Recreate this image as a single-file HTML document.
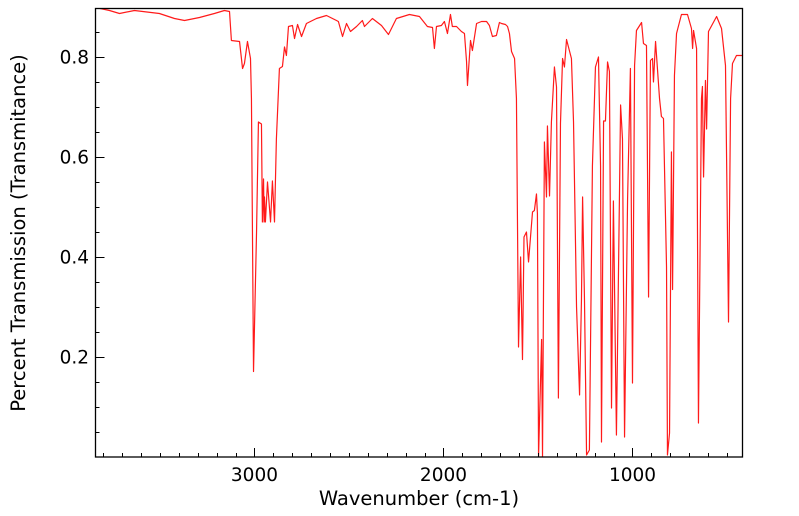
<!DOCTYPE html>
<html><head><meta charset="utf-8">
<style>
html,body{margin:0;padding:0;background:#fff;width:799px;height:516px;overflow:hidden}
svg text{font-family:"DejaVu Sans","Liberation Sans",sans-serif;fill:#000}
</style></head>
<body>
<svg id="chart" width="799" height="516" xmlns="http://www.w3.org/2000/svg"></svg>
<script>
const wavenumbers=[3841,3767,3714,3635,3503,3423,3370,3291,3212,3159,3132,3122,3079,3063,3053,3037,3021,3016,3005,2989,2979,2963,2958,2952,2949,2947,2942,2931,2915,2905,2894,2884,2868,2852,2841,2831,2820,2799,2788,2772,2751,2725,2672,2619,2566,2556,2534,2513,2492,2460,2429,2418,2376,2328,2291,2249,2180,2127,2085,2058,2048,2037,2011,1995,1979,1963,1953,1931,1905,1889,1878,1873,1857,1847,1825,1799,1772,1757,1741,1720,1704,1693,1672,1661,1651,1640,1624,1614,1603,1592,1582,1574,1561,1550,1529,1519,1508,1503,1497,1481,1476,1466,1455,1450,1439,1429,1413,1402,1392,1381,1370,1360,1349,1323,1312,1296,1280,1270,1264,1254,1243,1228,1212,1196,1180,1169,1164,1153,1143,1132,1122,1111,1101,1085,1063,1053,1042,1026,1011,1000,989,979,952,942,926,915,905,894,889,878,857,847,836,820,815,804,794,788,778,767,741,709,688,682,677,661,651,635,630,624,614,608,598,555,529,508,492,481,471,450,418];
const transmittance=[.899,.893,.887,.893,.887,.877,.873,.879,.887,.893,.891,.833,.831,.777,.787,.831,.797,.717,.171,.45,.67,.666,.47,.556,.47,.52,.47,.55,.47,.552,.47,.636,.777,.781,.82,.803,.861,.863,.837,.865,.841,.867,.877,.883,.873,.871,.841,.867,.851,.861,.873,.861,.877,.863,.845,.877,.885,.881,.861,.859,.817,.861,.863,.871,.847,.885,.861,.861,.851,.847,.791,.743,.833,.813,.867,.871,.871,.863,.841,.843,.869,.867,.865,.861,.847,.811,.797,.717,.22,.40,.195,.44,.45,.39,.49,.493,.526,.487,0,.235,0,.63,.52,.662,.522,.67,.78,.74,.118,.667,.797,.78,.835,.797,.67,.30,.124,.315,.52,.315,.004,.014,.582,.78,.80,.582,.03,.672,.672,.79,.771,.098,.512,.044,.704,.636,.04,.516,.777,.148,.783,.853,.869,.827,.823,.32,.793,.797,.75,.831,.717,.681,.677,.38,.004,.048,.61,.335,.763,.847,.885,.885,.857,.817,.853,.817,.068,.717,.741,.56,.753,.656,.851,.881,.857,.783,.27,.717,.787,.803,.803];
const xMajorTicks=[3000,2000,1000];
const yMajorTicks=[0.2,0.4,0.6,0.8];
const yTickLabels=["0.2","0.4","0.6","0.8"];

const svg=document.getElementById('chart');
const NS='http://www.w3.org/2000/svg';
const L=95.5,R=742.5,T=8.5,B=457;
const xMax=3841,xMin=418,yMin=0,yMax=0.897;
function xs(w){return L+(xMax-w)/(xMax-xMin)*(R-L);}
function ys(v){return B-(v-yMin)/(yMax-yMin)*(B-T);}
function mk(tag,attrs){const e=document.createElementNS(NS,tag);for(const k in attrs)e.setAttribute(k,attrs[k]);svg.appendChild(e);return e;}

const defs=mk('defs',{});
const cp=document.createElementNS(NS,'clipPath');cp.setAttribute('id','pc');
const cr=document.createElementNS(NS,'rect');cr.setAttribute('x',L);cr.setAttribute('y',T);cr.setAttribute('width',R-L);cr.setAttribute('height',B-T);
cp.appendChild(cr);defs.appendChild(cp);

let d='';
for(let i=0;i<wavenumbers.length;i++){d+=(i?'L':'M')+xs(wavenumbers[i]).toFixed(2)+','+ys(transmittance[i]).toFixed(2);}
const line=mk('path',{d:d,fill:'none',stroke:'#ff1a1a','stroke-width':1.2,'stroke-linejoin':'round','clip-path':'url(#pc)'});



const fr=mk('rect',{x:L,y:T,width:R-L,height:B-T,fill:'none',stroke:'#000','stroke-width':1.3});



for(let w=3800;w>=500;w-=100){
  const major=xMajorTicks.includes(w);
  const x=Math.round(xs(w))+0.5;
  const t=mk('line',{x1:x,x2:x,y1:B,y2:B-(major?9:4),stroke:'#000','stroke-width':1});
  
  
}
xMajorTicks.forEach(w=>{
  const t=mk('text',{x:xs(w),y:481,'text-anchor':'middle','font-size':18.5});
  t.textContent=String(w);
  
  
});
for(let k=1;k<=17;k++){
  const v=k*0.05;
  const major=Math.abs(v*5-Math.round(v*5))<1e-6;
  const y=Math.round(ys(v))+0.5;
  const t=mk('line',{x1:L,x2:L+(major?9:4),y1:y,y2:y,stroke:'#000','stroke-width':1});
  
  
}
yMajorTicks.forEach((v,i)=>{
  const t=mk('text',{x:89,y:ys(v)+6.5,'text-anchor':'end','font-size':18.5});
  t.textContent=yTickLabels[i];
  
  
});
const xt=mk('text',{x:419,y:505,'text-anchor':'middle','font-size':19.5});
xt.textContent='Wavenumber (cm-1)';


const yt=mk('text',{x:0,y:0,'text-anchor':'middle','font-size':19.5,transform:'translate(25,233) rotate(-90)'});
yt.textContent='Percent Transmission (Transmitance)';


</script>
</body></html>
